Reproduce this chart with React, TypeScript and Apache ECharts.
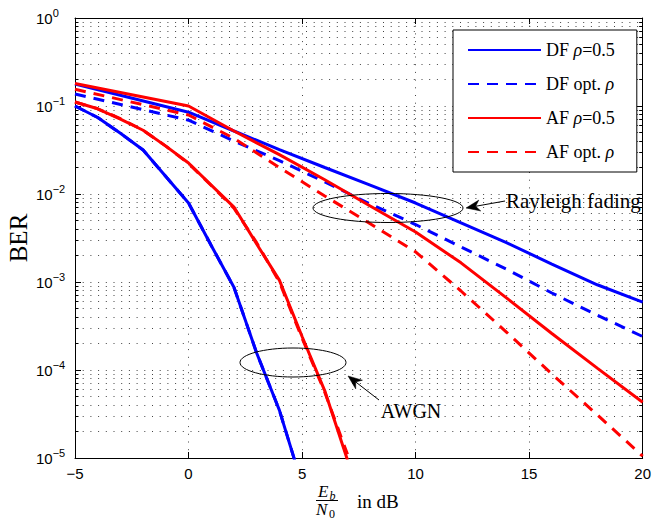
import React, { useEffect, useRef } from "react";
import * as echarts from "echarts";

// ---- data ----
const X_RAYLEIGH = [-5, 0, 2, 4, 6, 8, 10, 12, 14, 16, 18, 20];
const DF_RHO05_RAYLEIGH = [0.178, 0.085, 0.052, 0.032, 0.02, 0.0126, 0.0079, 0.0047, 0.0028, 0.0016, 9.3e-4, 5.9e-4];
const DF_OPT_RAYLEIGH = [0.137, 0.069, 0.04, 0.024, 0.0137, 0.0077, 0.0045, 0.0025, 0.0014, 7.5e-4, 4.2e-4, 2.4e-4];
const AF_RHO05_RAYLEIGH = [0.18, 0.1, 0.052, 0.028, 0.0145, 0.0073, 0.0037, 0.00165, 6.6e-4, 2.6e-4, 1.05e-4, 4.3e-5];
const AF_OPT_RAYLEIGH = [0.155, 0.079, 0.043, 0.02, 0.0095, 0.0046, 0.0022, 7.9e-4, 2.7e-4, 9e-5, 3.1e-5, 1.05e-5];

const X_AWGN_DF = [-5, -4, -3, -2, -1, 0, 1, 2, 3, 4, 5];
const DF_RHO05_AWGN = [0.1, 0.074, 0.049, 0.0316, 0.0158, 0.0079, 0.0026, 8.7e-4, 1.56e-4, 3.5e-5, 5e-6];
const DF_OPT_AWGN = [0.1, 0.074, 0.049, 0.0316, 0.0158, 0.0079, 0.0026, 8.7e-4, 1.56e-4, 3.5e-5, 5e-6];

const X_AWGN_AF = [-5, -4, -3, -2, -1, 0, 1, 2, 3, 4, 5, 6, 7];
const AF_RHO05_AWGN = [0.111, 0.093, 0.071, 0.053, 0.035, 0.0225, 0.0126, 0.0071, 0.0027, 0.00105, 2.4e-4, 5.8e-5, 9.5e-6];
const AF_OPT_AWGN = [0.111, 0.093, 0.072, 0.053, 0.035, 0.0222, 0.0125, 0.0069, 0.0028, 0.001, 2.3e-4, 5.6e-5, 1.1e-5];

const SERIES_NAMES = ["DF ρ=0.5", "DF opt. ρ", "AF ρ=0.5", "AF opt. ρ"];

const X_MIN = -5;
const X_MAX = 20;
const X_INTERVAL = 5;
const Y_MIN = 1e-5;
const Y_MAX = 1;
const MINOR_MANTISSAS = [2, 3, 4, 5, 6, 7, 8, 9];
const DECADES = [-5, -4, -3, -2, -1];

const BLUE = "#0000ff";
const RED = "#ff0000";
const DASH = [11, 8];
const SERIF = "Liberation Serif";
const SANS = "Liberation Sans";

const zip = (xs: number[], ys: number[]) => xs.map((x, i) => [x, ys[i]]);

function arrow(tip: [number, number], tail: [number, number], len: number, half: number) {
  const dx = tail[0] - tip[0];
  const dy = tail[1] - tip[1];
  const d = Math.hypot(dx, dy);
  const ux = dx / d;
  const uy = dy / d;
  const nx = -uy;
  const ny = ux;
  const bx = tip[0] + ux * len;
  const by = tip[1] + uy * len;
  const notch = [tip[0] + ux * len * 0.7, tip[1] + uy * len * 0.7];
  return [
    {
      type: "line",
      shape: { x1: notch[0], y1: notch[1], x2: tail[0], y2: tail[1] },
      style: { stroke: "#000", lineWidth: 1 },
      z: 100,
    },
    {
      type: "polygon",
      shape: {
        points: [tip, [bx + nx * half, by + ny * half], notch, [bx - nx * half, by - ny * half]],
      },
      style: { fill: "#000", stroke: "#000", lineWidth: 0.5 },
      z: 100,
    },
  ];
}

export default function App() {
  const ref = useRef<HTMLDivElement>(null);

  useEffect(() => {
    if (!ref.current) return;
    const chart = echarts.init(ref.current, null, { renderer: "svg" });

    const minorY: number[] = [];
    DECADES.forEach((e) => MINOR_MANTISSAS.forEach((m) => minorY.push(m * Math.pow(10, e))));

    const lineSeries = (name: string, data: number[][], color: string, dashed: boolean) => ({
      type: "line",
      name,
      data,
      symbol: "none",
      showSymbol: false,
      z: 3,
      lineStyle: { color, width: 3, type: dashed ? DASH : "solid" },
      itemStyle: { color },
      emphasis: { disabled: true },
    });

    const supFmt = (v: number) => {
      const e = Math.round(Math.log10(v));
      const s = e < 0 ? "−" + -e : String(e);
      return `{b|10}{s|${s}}`;
    };

    const option: any = {
      animation: false,
      backgroundColor: "#fff",
      grid: { left: 75, top: 18, width: 570, height: 440, containLabel: false },
      legend: {
        data: SERIES_NAMES,
        orient: "vertical",
        left: 453,
        top: 30,
        itemWidth: 73,
        itemHeight: 14,
        itemGap: 16,
        padding: [11, 22, 11, 14],
        backgroundColor: "#fff",
        borderColor: "#000",
        borderWidth: 1,
        selectedMode: false,
        itemStyle: { opacity: 0, color: "rgba(0,0,0,0)", borderWidth: 0 },
        formatter: (name: string) => {
          const parts = name.split("ρ");
          let out = "";
          if (parts[0]) out += `{r|${parts[0]}}`;
          out += "{i|ρ}";
          if (parts[1]) out += `{r|${parts[1]}}`;
          return out;
        },
        textStyle: {
          fontFamily: SERIF,
          fontSize: 18,
          color: "#000",
          rich: {
            r: { fontFamily: SERIF, fontSize: 18, color: "#000" },
            i: { fontFamily: SERIF, fontSize: 18, fontStyle: "italic", color: "#000" },
          },
        },
      },
      xAxis: [
        {
          type: "value",
          min: X_MIN,
          max: X_MAX,
          interval: X_INTERVAL,
          position: "bottom",
          axisLine: { show: true, onZero: false, lineStyle: { color: "#000", width: 1 } },
          axisTick: { show: true, inside: true, length: 6, lineStyle: { color: "#000", width: 1 } },
          axisLabel: {
            fontFamily: SANS,
            fontSize: 15,
            color: "#000",
            margin: 8,
            formatter: (v: number) => (v < 0 ? "−" + -v : String(v)),
          },
          splitLine: { show: true, lineStyle: { color: "#444", width: 1, type: [1, 6.7] } },
        },
        {
          type: "value",
          min: X_MIN,
          max: X_MAX,
          interval: X_INTERVAL,
          position: "top",
          axisLine: { show: true, onZero: false, lineStyle: { color: "#000", width: 1 } },
          axisTick: { show: true, inside: true, length: 6, lineStyle: { color: "#000", width: 1 } },
          axisLabel: { show: false },
          splitLine: { show: false },
        },
      ],
      yAxis: [
        {
          type: "log",
          logBase: 10,
          min: Y_MIN,
          max: Y_MAX,
          position: "left",
          axisLine: { show: true, onZero: false, lineStyle: { color: "#000", width: 1 } },
          axisTick: { show: true, inside: true, length: 6, lineStyle: { color: "#000", width: 1 } },
          axisLabel: {
            align: "left",
            margin: 39,
            formatter: supFmt,
            rich: {
              b: { fontFamily: SANS, fontSize: 15, color: "#000", lineHeight: 22 },
              s: { fontFamily: SANS, fontSize: 11, color: "#000", lineHeight: 11, verticalAlign: "top" },
            },
          },
          splitLine: { show: true, lineStyle: { color: "#444", width: 1, type: [1, 6.7] } },
        },
        {
          type: "log",
          logBase: 10,
          min: Y_MIN,
          max: Y_MAX,
          position: "right",
          axisLine: { show: true, onZero: false, lineStyle: { color: "#000", width: 1 } },
          axisTick: { show: true, inside: true, length: 6, lineStyle: { color: "#000", width: 1 } },
          axisLabel: { show: false },
          splitLine: { show: false },
        },
      ],
      series: [
        {
          type: "custom",
          name: "minor",
          silent: true,
          z: 1,
          data: [[X_MIN, Y_MIN]],
          renderItem: (_params: any, api: any) => {
            const children: any[] = [];
            minorY.forEach((v) => {
              const p0 = api.coord([X_MIN, v]);
              const p1 = api.coord([X_MAX, v]);
              const y = Math.floor(p0[1]) + 0.5;
              children.push({
                type: "line",
                shape: { x1: p0[0], y1: y, x2: p1[0], y2: y },
                style: { stroke: "#444", lineWidth: 1, lineDash: [1, 6.7] },
              });
              children.push({
                type: "line",
                shape: { x1: p0[0], y1: y, x2: p0[0] + 3.5, y2: y },
                style: { stroke: "#000", lineWidth: 1 },
              });
              children.push({
                type: "line",
                shape: { x1: p1[0] - 3.5, y1: y, x2: p1[0], y2: y },
                style: { stroke: "#000", lineWidth: 1 },
              });
            });
            return { type: "group", children };
          },
        },
        lineSeries(SERIES_NAMES[0], zip(X_RAYLEIGH, DF_RHO05_RAYLEIGH), BLUE, false),
        lineSeries(SERIES_NAMES[0], zip(X_AWGN_DF, DF_RHO05_AWGN), BLUE, false),
        lineSeries(SERIES_NAMES[1], zip(X_RAYLEIGH, DF_OPT_RAYLEIGH), BLUE, true),
        lineSeries(SERIES_NAMES[1], zip(X_AWGN_DF, DF_OPT_AWGN), BLUE, true),
        lineSeries(SERIES_NAMES[2], zip(X_RAYLEIGH, AF_RHO05_RAYLEIGH), RED, false),
        lineSeries(SERIES_NAMES[2], zip(X_AWGN_AF, AF_RHO05_AWGN), RED, false),
        lineSeries(SERIES_NAMES[3], zip(X_RAYLEIGH, AF_OPT_RAYLEIGH), RED, true),
        lineSeries(SERIES_NAMES[3], zip(X_AWGN_AF, AF_OPT_AWGN), RED, true),
      ],
      graphic: [
        // y axis name
        {
          type: "text",
          x: 18,
          y: 238,
          rotation: Math.PI / 2,
          style: { text: "BER", fontFamily: SERIF, fontSize: 25, fill: "#000", align: "center", verticalAlign: "middle" },
        },
        // x axis name: Eb/N0 in dB
        {
          type: "text",
          x: 318,
          y: 491.5,
          style: { text: "E", fontFamily: SERIF, fontStyle: "italic", fontSize: 17, lineHeight: 13, fill: "#000", align: "left", verticalAlign: "middle" },
        },
        {
          type: "text",
          x: 329.5,
          y: 495.5,
          style: { text: "b", fontFamily: SERIF, fontStyle: "italic", fontSize: 12, lineHeight: 9, fill: "#000", align: "left", verticalAlign: "middle" },
        },
        {
          type: "line",
          shape: { x1: 316, y1: 500.5, x2: 338, y2: 500.5 },
          style: { stroke: "#000", lineWidth: 1 },
        },
        {
          type: "text",
          x: 316,
          y: 509,
          style: { text: "N", fontFamily: SERIF, fontStyle: "italic", fontSize: 17, lineHeight: 13, fill: "#000", align: "left", verticalAlign: "middle" },
        },
        {
          type: "text",
          x: 329,
          y: 514,
          style: { text: "0", fontFamily: SERIF, fontSize: 12, lineHeight: 9, fill: "#000", align: "left", verticalAlign: "middle" },
        },
        {
          type: "text",
          x: 357,
          y: 501,
          style: { text: "in dB", fontFamily: SERIF, fontSize: 19, fill: "#000", align: "left", verticalAlign: "middle" },
        },
        // Rayleigh annotation
        {
          type: "ellipse",
          shape: { cx: 388, cy: 208, rx: 75, ry: 14.5 },
          style: { fill: "none", stroke: "#000", lineWidth: 1 },
          z: 100,
        },
        ...arrow([466, 208], [505, 201], 14, 5.5),
        {
          type: "text",
          x: 506,
          y: 201,
          z: 100,
          style: { text: "Rayleigh fading", fontFamily: SERIF, fontSize: 21, fill: "#000", align: "left", verticalAlign: "middle" },
        },
        // AWGN annotation
        {
          type: "ellipse",
          shape: { cx: 293, cy: 362.5, rx: 53, ry: 14.5 },
          style: { fill: "none", stroke: "#000", lineWidth: 1 },
          z: 100,
        },
        ...arrow([348, 376], [379, 400], 14, 5.5),
        {
          type: "text",
          x: 411,
          y: 411,
          z: 100,
          style: { text: "AWGN", fontFamily: SERIF, fontSize: 20, fill: "#000", align: "center", verticalAlign: "middle" },
        },
      ],
    };

    chart.setOption(option);
    return () => chart.dispose();
  }, []);

  return (
    <div
      ref={ref}
      style={{ position: "absolute", left: 0, top: 0, width: 654, height: 522, background: "#fff" }}
    />
  );
}
